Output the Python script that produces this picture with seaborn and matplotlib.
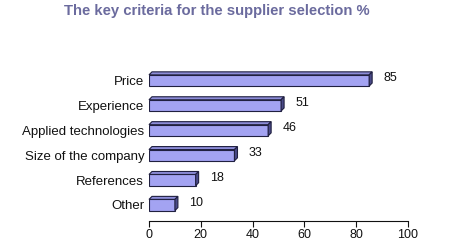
import matplotlib
matplotlib.use("Agg")
import matplotlib.pyplot as plt
import matplotlib.transforms as mtransforms
from matplotlib.patches import Polygon
import seaborn as sns
import pandas as pd

categories = ["Price", "Experience", "Applied technologies", "Size of the company", "References", "Other"]
values = [85, 51, 46, 33, 18, 10]
x_ticks = [0, 20, 40, 60, 80, 100]
title = "The key criteria for the supplier selection %"

sns.set_theme(style="white")
plt.rcParams["font.family"] = ["Liberation Sans", "DejaVu Sans"]

df = pd.DataFrame({"criterion": categories, "value": values})

fig = plt.figure(figsize=(4.5, 2.5), dpi=100)
ax = fig.add_axes([149/450, 1 - 221/250, (408 - 149)/450, (221 - 68)/250])

sns.barplot(data=df, y="criterion", x="value", ax=ax, orient="h",
            color="#a3a3f2", saturation=1, width=0.45,
            edgecolor="#202040", linewidth=0.8)

ax.set_xlim(0, 100)
ax.set_ylim(5 + 16/24.9, -0.5)
ax.set_xticks(x_ticks)
ax.set_xlabel("")
ax.set_ylabel("")
for s in ["top", "right", "left"]:
    ax.spines[s].set_visible(False)
ax.spines["bottom"].set_color("#111111")
ax.spines["bottom"].set_linewidth(0.8)
ax.tick_params(axis="x", bottom=True, direction="out", length=4, width=0.8, colors="#111111",
               labelsize=9, pad=2)
ax.tick_params(axis="y", left=False, length=0, labelsize=9.5, pad=3.5, colors="#111111")
ax.set_facecolor("white")

d = 3  # depth in pixels
dx = dy = d * 72 / fig.dpi
off = mtransforms.offset_copy(ax.transData, fig=fig, x=dx, y=dy, units="points")
for p, v in zip(ax.patches, values):
    x0, y0 = p.get_x(), p.get_y()
    w, h = p.get_width(), p.get_height()
    y_top = y0  # inverted axis: smaller y is top
    y_bot = y0 + h
    x1 = x0 + w
    A = ax.transData.transform([(x0, y_top), (x1, y_top), (x1, y_bot)])
    B = off.transform([(x0, y_top), (x1, y_top), (x1, y_bot)])
    top = Polygon([A[0], A[1], B[1], B[0]], closed=True, transform=None,
                  facecolor="#8c8cd8", edgecolor="#202040", linewidth=0.8, zorder=3)
    side = Polygon([A[1], A[2], B[2], B[1]], closed=True, transform=None,
                   facecolor="#4a4a88", edgecolor="#202040", linewidth=0.8, zorder=3)
    fig.add_artist(top)
    fig.add_artist(side)
    ax.annotate(f"{v}", xy=(x1, y0 + h * 0.5), xytext=(10.5, 1.5), textcoords="offset points",
                va="center", ha="left", fontsize=9, color="#111111")

fig.text(217/450, 1 - 11.5/250, title, ha="center", va="center", fontsize=10.7,
         fontweight="bold", color="#6b6b9e")

fig.savefig("out.png", dpi=100, facecolor="white")
